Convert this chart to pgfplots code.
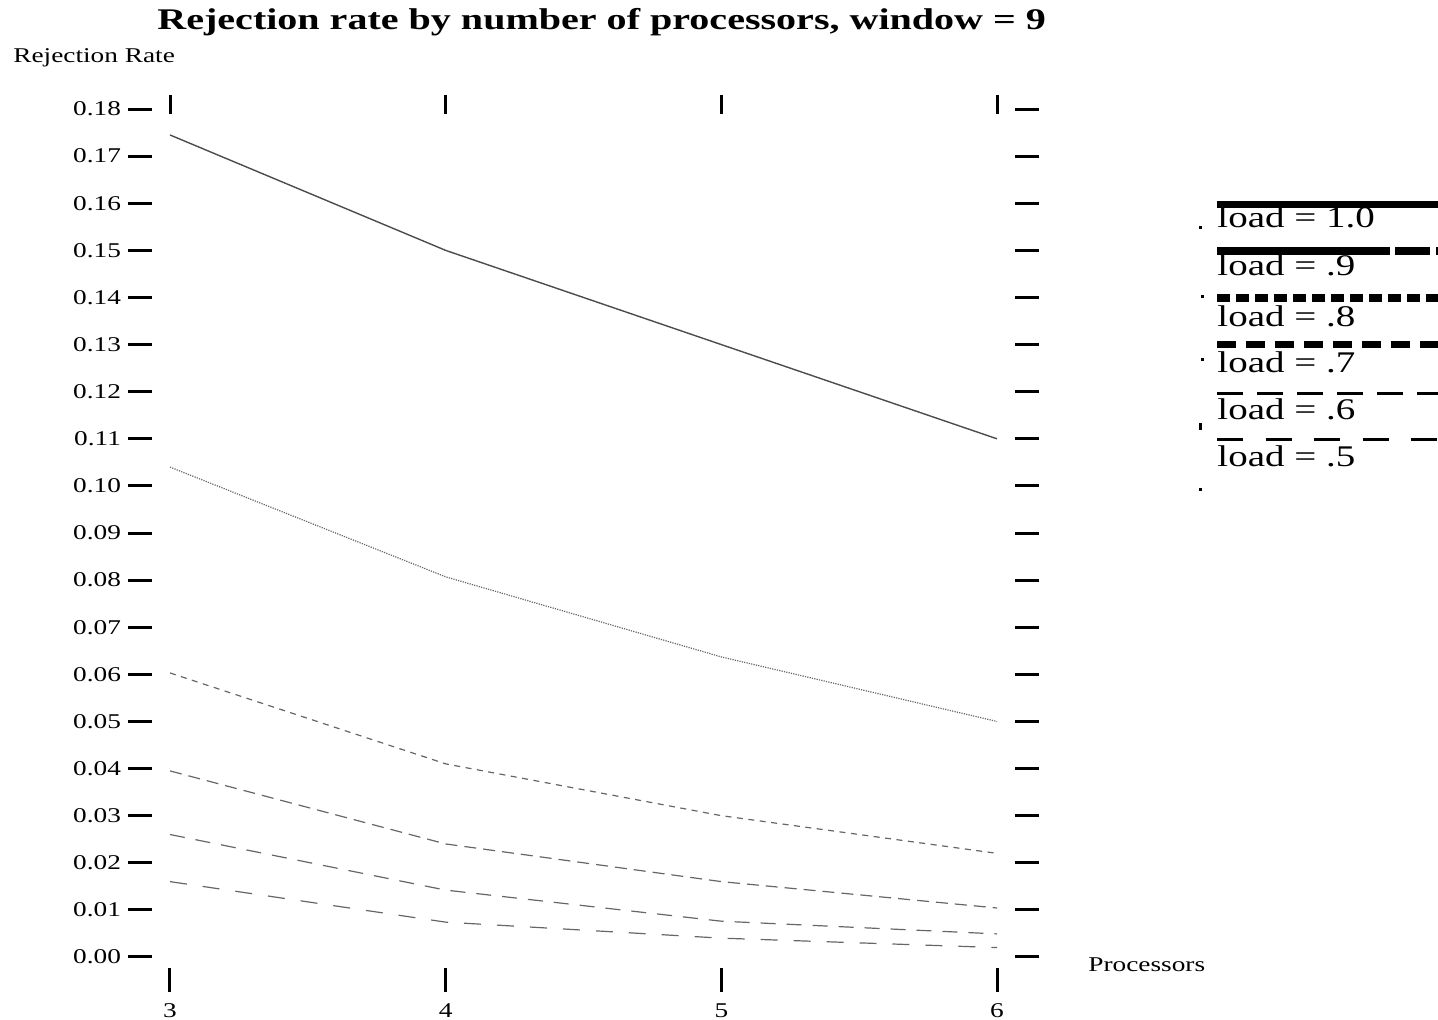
\documentclass[border=0pt]{standalone}
\usepackage{pgfplots}
\pgfplotsset{compat=1.18}
\usepackage{fontspec}
\setmainfont{Liberation Serif}[FakeStretch=1.3]
\newfontfamily\titlefont{Liberation Serif}[FakeStretch=1.335]

\begin{document}
\begin{tikzpicture}
\path[use as bounding box] (-76pt,-26pt) rectangle (643pt,484pt);
\begin{axis}[
  at={(0pt,0pt)}, anchor=south west,
  scale only axis, width=431.5pt, height=429.7pt,
  xmin=2.9347, xmax=6.0653, ymin=-0.002335, ymax=0.1801,
  separate axis lines, axis line style={draw=none},
  tick align=outside, xtick pos=left, ytick pos=both,
  major tick length=12pt,
  tick style={black, line width=1.5pt},
  xtick={3,4,5,6},
  ytick={0,0.01,0.02,0.03,0.04,0.05,0.06,0.07,0.08,0.09,0.10,0.11,0.12,0.13,0.14,0.15,0.16,0.17,0.18},
  yticklabel style={/pgf/number format/.cd, fixed, fixed zerofill, precision=2},
  xticklabel style={yshift=-2.5pt},
  /pgf/number format/assume math mode=true,
  ticklabel style={font=\fontsize{10.5}{12}\selectfont},
  clip=false,
]
\addplot[black!70, line width=0.7pt] coordinates {(3,0.1745)(4,0.150)(5,0.130)(6,0.110)};
\addplot[black!60, line width=0.6pt, dash pattern=on 0.6pt off 0.6pt] coordinates {(3,0.104)(4,0.0807)(5,0.0637)(6,0.050)};
\addplot[black!60, line width=0.6pt, dash pattern=on 3pt off 2.75pt] coordinates {(3,0.0603)(4,0.041)(5,0.030)(6,0.022)};
\addplot[black!60, line width=0.6pt, dash pattern=on 6pt off 3.5pt] coordinates {(3,0.0395)(4,0.024)(5,0.016)(6,0.0104)};
\addplot[black!60, line width=0.6pt, dash pattern=on 7.5pt off 5.5pt] coordinates {(3,0.026)(4,0.0142)(5,0.0076)(6,0.0049)};
\addplot[black!60, line width=0.6pt, dash pattern=on 8.5pt off 8pt] coordinates {(3,0.016)(4,0.0074)(5,0.004)(6,0.002)};
\end{axis}
% top ticks (detached, slightly lower than 0.18)
\begin{axis}[
  at={(0pt,0pt)}, anchor=south west,
  scale only axis, width=431.5pt, height=427pt,
  xmin=2.9347, xmax=6.0653, ymin=0, ymax=1,
  separate axis lines, axis line style={draw=none},
  tick align=outside, xtick pos=right, ytick=\empty,
  major tick length=9.5pt,
  tick style={black, line width=1.5pt},
  xtick={3,4,5,6}, xticklabels={},
]
\end{axis}
% title and labels
\node[anchor=base west, inner sep=0pt, font=\fontsize{15}{18}\selectfont\titlefont\bfseries] at (2.5pt,469pt) {Rejection rate by number of processors, window = 9};
\node[anchor=base west, inner sep=0pt, font=\fontsize{10.5}{12}\selectfont] at (-69.5pt,452.5pt) {Rejection Rate};
\node[anchor=base west, inner sep=0pt, font=\fontsize{10.5}{12}\selectfont] at (468pt,-2pt) {Processors};
% legend
\begin{scope}[line cap=butt]
\draw[line width=3.5pt] (532.5pt,381.75pt) -- (643pt,381.75pt);
\draw[line width=4pt, dash pattern=on 86.5pt off 2.5pt on 17.5pt off 3pt] (532.5pt,358.5pt) -- (643pt,358.5pt);
\draw[line width=4pt, dash pattern=on 6.5pt off 3pt] (532.5pt,335pt) -- (643pt,335pt);
\draw[line width=3.5pt, dash pattern=on 9.5pt off 5pt] (532.5pt,311.75pt) -- (643pt,311.75pt);
\draw[line width=1.5pt, dash pattern=on 13pt off 7pt] (532.5pt,287.25pt) -- (643pt,287.25pt);
\draw[line width=1.5pt, dash pattern=on 13pt off 11.25pt] (532.5pt,264pt) -- (643pt,264pt);
\end{scope}
\begin{scope}[every node/.style={anchor=base west, inner sep=0pt, font=\fontsize{15}{18}\selectfont}]
\node at (532.5pt,370pt) {load = 1.0};
\node at (532.5pt,346pt) {load = .9};
\node at (532.5pt,320.5pt) {load = .8};
\node at (532.5pt,297.5pt) {load = .7};
\node at (532.5pt,274pt) {load = .6};
\node at (532.5pt,250.5pt) {load = .5};
\end{scope}
\fill (523.25pt,369.25pt) rectangle +(1.5pt,1.5pt);
\fill (524.25pt,334.75pt) rectangle +(1.5pt,1.5pt);
\fill (524.25pt,303.25pt) rectangle +(1.5pt,1.5pt);
\fill (523.25pt,269pt) rectangle +(1.5pt,3.5pt);
\fill (523.25pt,238.25pt) rectangle +(1.5pt,1.5pt);
\end{tikzpicture}
\end{document}
